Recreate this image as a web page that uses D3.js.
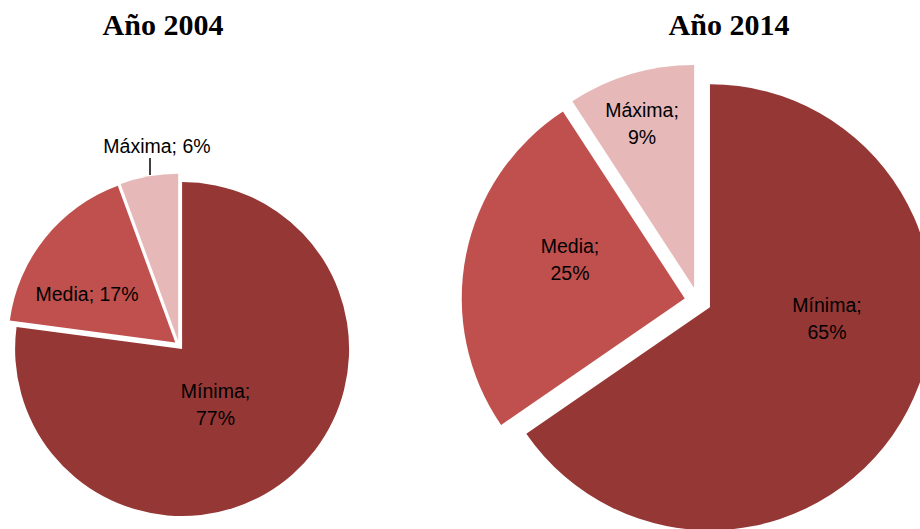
<!DOCTYPE html>
<html>
<head>
<meta charset="utf-8">
<script src="https://cdn.jsdelivr.net/npm/d3@7"></script>
<style>
  html, body { margin: 0; padding: 0; background: #ffffff; }
  svg { display: block; }
</style>
</head>
<body>
<svg id="chart" width="920" height="529"></svg>
<script>
// ---- data ----
const categories = ["Mínima", "Media", "Máxima"];
const values2004 = [77.1, 17.3, 5.6];
const values2014 = [65.4, 25.4, 9.2];
const titles = ["Año 2004", "Año 2014"];

// ---- style / layout ----
const colors = d3.scaleOrdinal().domain(categories).range(["#953735", "#C0504D", "#E6B9B8"]);
const labelFont = "'Liberation Sans', Arial, sans-serif";
const titleFont = "'Liberation Serif', 'Times New Roman', serif";
const lineH = 26.5;

const charts = [
  {
    values: values2004, title: titles[0],
    cx: 179, cy: 345.5, r: 167, explode: 4.7, titleX: 163, titleY: 35,
    labels: {
      "Mínima": { dx: 36.5, dy: 52.5, wrap: true },
      "Media":  { dx: -92, dy: -44.5, wrap: false },
      "Máxima": { dx: -22, dy: -192.5, wrap: false, leader: [[-29, -187.5], [-29, -170.5]] }
    }
  },
  {
    values: values2014, title: titles[1],
    cx: 698, cy: 301, r: 223, explode: 13.5, titleX: 729, titleY: 35,
    labels: {
      "Mínima": { dx: 129, dy: 11, wrap: true },
      "Media":  { dx: -128, dy: -48, wrap: true },
      "Máxima": { dx: -56, dy: -184, wrap: true }
    }
  }
];

const svg = d3.select("#chart");

const pie = d3.pie().sort(null).value(d => d.value).startAngle(0).endAngle(2 * Math.PI);

charts.forEach(ch => {
  const data = categories.map((c, i) => ({ name: c, value: ch.values[i] }));
  const arcs = pie(data);
  const arc = d3.arc().innerRadius(0).outerRadius(ch.r);

  const g = svg.append("g").attr("transform", `translate(${ch.cx},${ch.cy})`);

  g.selectAll("path.slice")
    .data(arcs)
    .join("path")
    .attr("class", "slice")
    .attr("d", arc)
    .attr("fill", d => colors(d.data.name))
    .attr("transform", d => {
      const mid = (d.startAngle + d.endAngle) / 2;
      return `translate(${ch.explode * Math.sin(mid)},${-ch.explode * Math.cos(mid)})`;
    });

  // labels
  arcs.forEach(d => {
    const L = ch.labels[d.data.name];
    const pct = Math.round(d.data.value) + "%";
    const lines = L.wrap ? [d.data.name + ";", pct] : [d.data.name + "; " + pct];
    const t = g.append("text")
      .attr("font-family", labelFont)
      .attr("font-size", 19.5)
      .attr("fill", "#000")
      .attr("text-anchor", "middle");
    lines.forEach((ln, i) => {
      t.append("tspan")
        .attr("x", L.dx)
        .attr("y", L.dy + i * lineH)
        .text(ln);
    });
    if (L.leader) {
      g.append("line")
        .attr("x1", L.leader[0][0]).attr("y1", L.leader[0][1])
        .attr("x2", L.leader[1][0]).attr("y2", L.leader[1][1])
        .attr("stroke", "#000")
        .attr("stroke-width", 1.5);
    }
  });

  svg.append("text")
    .attr("x", ch.titleX)
    .attr("y", ch.titleY)
    .attr("text-anchor", "middle")
    .attr("font-family", titleFont)
    .attr("font-weight", "bold")
    .attr("font-size", 30)
    .attr("fill", "#000")
    .text(ch.title);
});
</script>
</body>
</html>
